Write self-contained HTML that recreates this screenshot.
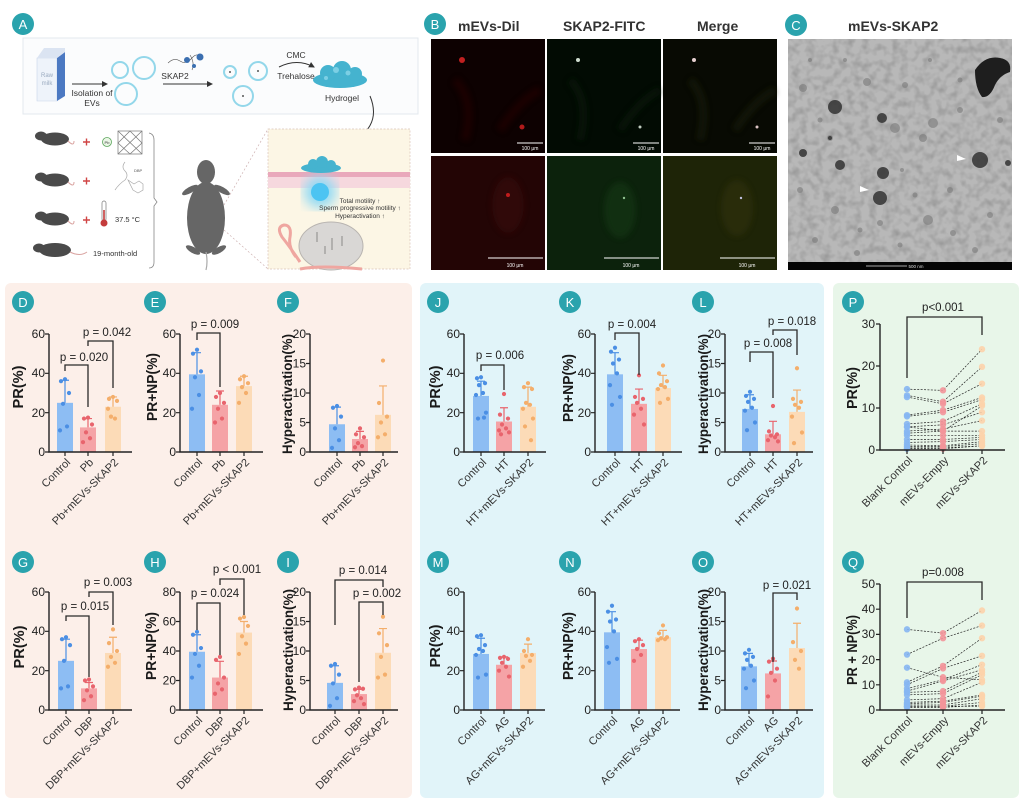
<!DOCTYPE html>
<html><head><meta charset="utf-8">
<style>
html,body{margin:0;padding:0;background:#fff;width:1024px;height:805px;overflow:hidden}
svg{display:block}
text{font-family:"Liberation Sans",Arial,sans-serif}
.tk{font-size:12px;fill:#222;text-anchor:end}
.yl{font-size:15px;font-weight:bold;fill:#1a1a1a;text-anchor:middle}
.yh{font-size:14px;font-weight:bold;fill:#1a1a1a;text-anchor:middle}
.xl{font-size:11px;fill:#333;text-anchor:end}
.pv{font-size:11.5px;fill:#222;text-anchor:middle}
.lb{font-size:13px;fill:#fff;text-anchor:middle}
.hd{font-size:14px;font-weight:bold;fill:#333;text-anchor:start}
.sm{font-size:8.5px;fill:#333;text-anchor:middle}
.br{fill:none;stroke:#2a2a2a;stroke-width:1.3}
</style></head>
<body>
<svg width="1024" height="805" viewBox="0 0 1024 805" xmlns="http://www.w3.org/2000/svg">
<defs>
<marker id="ah" markerWidth="6" markerHeight="6" refX="5" refY="3" orient="auto"><path d="M0,0L6,3L0,6z" fill="#333"/></marker>
<filter id="bl"><feGaussianBlur stdDeviation="3"/></filter>
<filter id="bl2"><feGaussianBlur stdDeviation="6"/></filter>
<filter id="bl1"><feGaussianBlur stdDeviation="1.2"/></filter>
<filter id="noise" x="0" y="0" width="100%" height="100%">
<feTurbulence type="fractalNoise" baseFrequency="0.13" numOctaves="2" seed="5"/>
<feColorMatrix type="matrix" values="0 0 0 0 0.3  0 0 0 0 0.3  0 0 0 0 0.3  1.8 0 0 0 -0.72"/>
</filter>
</defs>

<!-- panel backgrounds -->
<rect x="5" y="283" width="407" height="515" rx="6" fill="#fcefe9"/>
<rect x="420" y="283" width="404" height="515" rx="6" fill="#e1f4f9"/>
<rect x="833" y="283" width="186" height="515" rx="6" fill="#e8f6e9"/>

<!-- ===== A ===== -->
<rect x="23" y="38" width="395" height="76" fill="#fbfcfd" stroke="#e3e8ee" stroke-width="1"/>
<polygon points="37,58 57,58 57,101 37,101" fill="#eef3fa" stroke="#c9d6ea" stroke-width="0.6"/>
<polygon points="57,58 65,52 65,96 57,101" fill="#4c79c2"/>
<polygon points="37,58 44,48 65,48 65,52 57,58" fill="#dbe4f2"/>
<text x="47" y="77" style="font-size:6px;fill:#9aaabf;text-anchor:middle">Raw</text>
<text x="47" y="85" style="font-size:6px;fill:#9aaabf;text-anchor:middle">milk</text>
<line x1="72" y1="84" x2="107" y2="84" stroke="#333" stroke-width="1" marker-end="url(#ah)"/>
<text class="sm" x="92" y="96">Isolation of</text>
<text class="sm" x="92" y="106">EVs</text>
<g fill="none" stroke="#93d7ea" stroke-width="2">
<circle cx="120" cy="70" r="8"/><circle cx="144" cy="68" r="11"/><circle cx="126" cy="94" r="11"/>
<circle cx="230" cy="72" r="6"/><circle cx="258" cy="71" r="9"/><circle cx="243" cy="96" r="10"/>
</g>
<g stroke="#555" stroke-width="0.6" fill="none"><path d="M168,63 q6,-6 12,-2 t12,-3 t10,2"/><path d="M190,55 q5,8 2,15"/></g>
<circle cx="187" cy="60" r="3" fill="#3b6fb0"/><circle cx="200" cy="57" r="3.5" fill="#3b6fb0"/><circle cx="194" cy="66" r="2" fill="#3b6fb0"/>
<text class="sm" x="175" y="79">SKAP2</text>
<line x1="163" y1="84" x2="212" y2="84" stroke="#333" stroke-width="1" marker-end="url(#ah)"/>
<g fill="#555"><circle cx="230" cy="72" r="1"/><circle cx="258" cy="71" r="1"/><circle cx="243" cy="96" r="1"/></g>
<text class="sm" x="296" y="58">CMC</text>
<path d="M279,67 Q297,58 314,67" fill="none" stroke="#333" stroke-width="1" marker-end="url(#ah)"/>
<text class="sm" x="296" y="79">Trehalose</text>
<g fill="#45b3cf"><ellipse cx="340" cy="80" rx="27" ry="8"/><circle cx="328" cy="73" r="8"/><circle cx="342" cy="70" r="9"/><circle cx="355" cy="74" r="7"/></g>
<g fill="#8ad7ea" opacity="0.8"><circle cx="336" cy="70" r="3"/><circle cx="348" cy="73" r="2.5"/><circle cx="326" cy="78" r="2"/></g>
<text class="sm" x="342" y="101">Hydrogel</text>
<path d="M370,96 Q384,130 342,146" fill="none" stroke="#333" stroke-width="1" marker-end="url(#ah)"/>

<g fill="#4a4a4a">
<ellipse cx="55" cy="139" rx="14" ry="6.5"/><ellipse cx="41" cy="136" rx="6" ry="4.5"/>
<ellipse cx="55" cy="180" rx="14" ry="6.5"/><ellipse cx="41" cy="177" rx="6" ry="4.5"/>
<ellipse cx="55" cy="219" rx="14" ry="6.5"/><ellipse cx="41" cy="216" rx="6" ry="4.5"/>
<ellipse cx="55" cy="250" rx="16" ry="7"/><ellipse cx="39" cy="248" rx="6" ry="4.5"/>
</g>
<g fill="none" stroke="#d9a3a0" stroke-width="1"><path d="M68,141 q6,6 6,0"/><path d="M68,182 q6,6 6,0"/><path d="M68,221 q6,6 6,0"/><path d="M70,252 q10,5 17,0"/></g>
<g stroke="#d04545" stroke-width="1.4"><path d="M83,142h7M86.5,138.5v7"/><path d="M83,181h7M86.5,177.5v7"/><path d="M83,220h7M86.5,216.5v7"/></g>
<circle cx="107" cy="142" r="4.5" fill="#eaf6e6" stroke="#5aa55a" stroke-width="0.8"/>
<text x="107" y="144" style="font-size:4px;text-anchor:middle;fill:#333">Pb</text>
<g fill="none" stroke="#777" stroke-width="0.7"><rect x="118" y="131" width="24" height="23"/><path d="M118,131L142,154M142,131L118,154M130,131L118,143L130,154L142,143z"/></g>
<g fill="none" stroke="#aaa" stroke-width="0.7"><path d="M125,162 q-4,5 0,9 t0,9 q-6,4 -10,10"/><path d="M128,180 l6,4 l5,-3 l4,3 v6 l-5,3 l-5,-3z"/></g>
<text x="134" y="172" style="font-size:4px;fill:#555">DBP</text>
<rect x="102" y="201" width="4" height="20" rx="2" fill="#fff" stroke="#777" stroke-width="0.7"/>
<circle cx="104" cy="223" r="3.5" fill="#c43c3c"/><rect x="103.2" y="210" width="1.6" height="12" fill="#c43c3c"/>
<text x="115" y="222" style="font-size:7.5px;fill:#333">37.5 °C</text>
<text x="93" y="256" style="font-size:7.5px;fill:#333">19-month-old</text>
<path d="M149,133 Q154,134 154,140 V198 L157,202 L154,206 V262 Q154,268 149,268" fill="none" stroke="#888" stroke-width="0.8"/>
<g fill="#666">
<ellipse cx="206" cy="218" rx="19" ry="36"/><ellipse cx="206" cy="172" rx="9" ry="12"/>
<ellipse cx="190" cy="190" rx="9" ry="3" transform="rotate(-30 190 190)"/><ellipse cx="222" cy="190" rx="9" ry="3" transform="rotate(30 222 190)"/>
<ellipse cx="193" cy="250" rx="8" ry="3" transform="rotate(30 193 250)"/><ellipse cx="219" cy="250" rx="8" ry="3" transform="rotate(-30 219 250)"/>
</g>
<path d="M206,252 Q208,262 206,270" stroke="#aaa" stroke-width="1.2" fill="none"/>
<g stroke="#c9a9a9" stroke-width="0.6" stroke-dasharray="2 2"><line x1="224" y1="205" x2="268" y2="129"/><line x1="224" y1="230" x2="268" y2="269"/></g>
<rect x="268" y="129" width="142" height="140" fill="#fcf6e5" stroke="#d9c4b8" stroke-width="0.7" stroke-dasharray="2 1.5"/>
<rect x="268" y="172" width="142" height="5" fill="#e9a8bb"/>
<rect x="268" y="177" width="142" height="11" fill="#f6d8de"/>
<circle cx="320" cy="192" r="16" fill="#8fd9f4" filter="url(#bl2)"/>
<circle cx="320" cy="192" r="9" fill="#4cc4f2"/>
<g fill="#45b3cf"><ellipse cx="321" cy="168" rx="20" ry="5"/><circle cx="313" cy="164" r="5"/><circle cx="322" cy="162" r="6"/><circle cx="331" cy="165" r="5"/></g>
<text x="360" y="203" style="font-size:6.5px;fill:#333;text-anchor:middle">Total motility ↑</text>
<text x="360" y="210" style="font-size:6.5px;fill:#333;text-anchor:middle">Sperm progressive motility ↑</text>
<text x="360" y="218" style="font-size:6.5px;fill:#333;text-anchor:middle">Hyperactivation ↑</text>
<ellipse cx="331" cy="246" rx="32" ry="24" fill="#d9d7d5" stroke="#b8b4b0" stroke-width="1"/>
<path d="M300,262 q-10,-15 -18,-25 q-6,-10 2,-12 q8,0 6,12 q-2,10 6,20" fill="none" stroke="#efa6a0" stroke-width="3"/>
<path d="M300,269 q20,-4 62,0" fill="none" stroke="#efa6a0" stroke-width="3"/>
<g stroke="#555" stroke-width="0.6"><path d="M317,232v10M332,238v12M342,236v10M325,246v8"/></g>

<g fill="#2aa3ad">
<circle cx="23" cy="24" r="11"/><circle cx="435" cy="24" r="11"/><circle cx="796" cy="25" r="11"/>
<circle cx="23" cy="302" r="11"/><circle cx="155" cy="302" r="11"/><circle cx="288" cy="302" r="11"/>
<circle cx="23" cy="562" r="11"/><circle cx="155" cy="562" r="11"/><circle cx="288" cy="562" r="11"/>
<circle cx="438" cy="302" r="11"/><circle cx="570" cy="302" r="11"/><circle cx="703" cy="302" r="11"/>
<circle cx="438" cy="562" r="11"/><circle cx="570" cy="562" r="11"/><circle cx="703" cy="562" r="11"/>
<circle cx="853" cy="302" r="11"/><circle cx="853" cy="562" r="11"/>
</g>
<g class="lb">
<text x="23" y="29">A</text><text x="435" y="29">B</text><text x="796" y="30">C</text>
<text x="23" y="307">D</text><text x="155" y="307">E</text><text x="288" y="307">F</text>
<text x="23" y="567">G</text><text x="155" y="567">H</text><text x="288" y="567">I</text>
<text x="438" y="307">J</text><text x="570" y="307">K</text><text x="703" y="307">L</text>
<text x="438" y="567">M</text><text x="570" y="567">N</text><text x="703" y="567">O</text>
<text x="853" y="307">P</text><text x="853" y="567">Q</text>
</g>

<!-- ===== B ===== -->
<text class="hd" x="458" y="31">mEVs-Dil</text>
<text class="hd" x="563" y="31">SKAP2-FITC</text>
<text class="hd" x="697" y="31">Merge</text>
<rect x="431" y="39" width="114" height="114" fill="#0d0101"/>
<rect x="547" y="39" width="114" height="114" fill="#020b03"/>
<rect x="663" y="39" width="114" height="114" fill="#080a03"/>
<rect x="431" y="156" width="114" height="114" fill="#230505"/>
<rect x="547" y="156" width="114" height="114" fill="#0c220c"/>
<rect x="663" y="156" width="114" height="114" fill="#1e2407"/>
<g filter="url(#bl)" opacity="0.5">
<path d="M455,80 q20,20 10,60 M500,130 q20,-30 40,-40" stroke="#2a0505" stroke-width="8" fill="none"/>
<path d="M570,80 q20,20 10,60 M620,130 q20,-30 40,-40" stroke="#0a1f0a" stroke-width="8" fill="none"/>
<path d="M690,80 q20,20 10,60 M735,130 q20,-30 40,-40" stroke="#1f2208" stroke-width="8" fill="none"/>
<ellipse cx="508" cy="205" rx="16" ry="28" fill="#3c0707"/>
<ellipse cx="620" cy="210" rx="16" ry="28" fill="#143e14"/>
<ellipse cx="737" cy="208" rx="16" ry="28" fill="#34340f"/>
</g>
<g>
<circle cx="462" cy="60" r="3" fill="#c02020"/><circle cx="522" cy="127" r="2.5" fill="#b01a1a"/>
<circle cx="578" cy="60" r="2" fill="#cfdccf"/><circle cx="640" cy="127" r="1.5" fill="#c0ccc0"/>
<circle cx="694" cy="60" r="2" fill="#e6d0d0"/><circle cx="757" cy="127" r="1.5" fill="#dcc4c4"/>
<circle cx="508" cy="195" r="2" fill="#c01c1c"/><circle cx="624" cy="198" r="1.2" fill="#8fc08f"/><circle cx="741" cy="198" r="1.2" fill="#c0c0e0"/>
</g>
<g stroke="#fff" stroke-width="1">
<line x1="517" y1="143" x2="543" y2="143"/><line x1="633" y1="143" x2="659" y2="143"/><line x1="749" y1="143" x2="775" y2="143"/>
<line x1="488" y1="258" x2="543" y2="258"/><line x1="604" y1="258" x2="659" y2="258"/><line x1="720" y1="258" x2="775" y2="258"/>
</g>
<g style="font-size:5px;fill:#fff;text-anchor:middle">
<text x="530" y="150">100 μm</text><text x="646" y="150">100 μm</text><text x="762" y="150">100 μm</text>
<text x="515" y="267">100 μm</text><text x="631" y="267">100 μm</text><text x="747" y="267">100 μm</text>
</g>

<!-- ===== C ===== -->
<text class="hd" x="848" y="31">mEVs-SKAP2</text>
<rect x="788" y="39" width="224" height="231" fill="#b8b8b8"/>
<rect x="788" y="39" width="224" height="231" filter="url(#noise)"/>
<g fill="#7a7a7a" opacity="0.6">
<circle cx="803" cy="88" r="4"/><circle cx="867" cy="82" r="4"/><circle cx="905" cy="85" r="3"/><circle cx="830" cy="138" r="3"/>
<circle cx="923" cy="138" r="4"/><circle cx="933" cy="123" r="5"/><circle cx="895" cy="128" r="5"/><circle cx="835" cy="210" r="4"/>
<circle cx="928" cy="220" r="5"/><circle cx="953" cy="233" r="3"/><circle cx="857" cy="253" r="3"/><circle cx="880" cy="223" r="3"/>
<circle cx="902" cy="170" r="2"/><circle cx="960" cy="110" r="3"/><circle cx="815" cy="240" r="3"/><circle cx="990" cy="215" r="3"/>
<circle cx="845" cy="60" r="2"/><circle cx="930" cy="60" r="2"/><circle cx="800" cy="190" r="3"/><circle cx="975" cy="250" r="3"/>
<circle cx="820" cy="120" r="2.5"/><circle cx="950" cy="190" r="3"/><circle cx="1000" cy="120" r="3"/><circle cx="900" cy="245" r="2.5"/>
<circle cx="860" cy="230" r="2.5"/><circle cx="810" cy="60" r="2"/><circle cx="960" cy="80" r="2.5"/><circle cx="915" cy="195" r="2.5"/>
</g>
<g fill="#333" opacity="0.85">
<circle cx="835" cy="107" r="7"/><circle cx="882" cy="118" r="5"/><circle cx="803" cy="153" r="4"/><circle cx="840" cy="165" r="5"/>
<circle cx="883" cy="173" r="6"/><circle cx="880" cy="198" r="7"/><circle cx="980" cy="160" r="8"/><circle cx="1008" cy="163" r="3"/>
<circle cx="830" cy="138" r="2"/>
</g>
<path d="M975,70 Q985,55 1000,58 Q1012,60 1010,72 Q1000,75 995,85 Q990,98 982,97 Q975,88 975,70z" fill="#1e1e1e"/>
<polygon points="860,186 869,190 860,192" fill="#fff"/><polygon points="957,155 966,159 957,161" fill="#fff"/>
<rect x="788" y="262" width="224" height="8" fill="#050505"/>
<line x1="866" y1="266" x2="907" y2="266" stroke="#ddd" stroke-width="0.8"/>
<text x="916" y="268" style="font-size:4.5px;fill:#ddd;text-anchor:middle">500 nm</text>

<g id="plots"></g>

<g class="br">
<path d="M65,371V365H88V407"/><path d="M88,346V341H113V388"/>
<path d="M197,340V333H220V387"/>
<path d="M66,621V616H89V677"/><path d="M89,597V592H113V625"/>
<path d="M197,630V603H220V655"/><path d="M220,585V579H244V615"/>
<path d="M335,625V580H383V587"/><path d="M359,682V602H383V615"/>
<path d="M481,371V365H504V390"/>
<path d="M615,340V333H639V375"/>
<path d="M750,362V352H773V398"/><path d="M773,335V330H797V355"/>
<path d="M773,662V593H797V600"/>
<path d="M907,378V317H982V335"/>
<path d="M907,618V582H982V600"/>
</g>
<g class="pv">
<text x="84" y="361">p = 0.020</text><text x="107" y="336">p = 0.042</text>
<text x="215" y="328">p = 0.009</text>
<text x="85" y="610">p = 0.015</text><text x="108" y="586">p = 0.003</text>
<text x="215" y="597">p = 0.024</text><text x="237" y="573">p &lt; 0.001</text>
<text x="363" y="574">p = 0.014</text><text x="377" y="597">p = 0.002</text>
<text x="500" y="359">p = 0.006</text>
<text x="632" y="328">p = 0.004</text>
<text x="768" y="347">p = 0.008</text><text x="792" y="325">p = 0.018</text>
<text x="787" y="589">p = 0.021</text>
<text x="943" y="311">p&lt;0.001</text>
<text x="943" y="576">p=0.008</text>
</g>

<g class="tk">
<text x="45" y="338">60</text><text x="45" y="377">40</text><text x="45" y="417">20</text><text x="45" y="456">0</text>
<text x="176" y="338">60</text><text x="176" y="377">40</text><text x="176" y="417">20</text><text x="176" y="456">0</text>
<text x="306" y="338">20</text><text x="306" y="367.5">15</text><text x="306" y="397">10</text><text x="306" y="426.5">5</text><text x="306" y="456">0</text>
<text x="460" y="338">60</text><text x="460" y="377">40</text><text x="460" y="417">20</text><text x="460" y="456">0</text>
<text x="591" y="338">60</text><text x="591" y="377">40</text><text x="591" y="417">20</text><text x="591" y="456">0</text>
<text x="721" y="338">20</text><text x="721" y="367.5">15</text><text x="721" y="397">10</text><text x="721" y="426.5">5</text><text x="721" y="456">0</text>
<text x="45" y="596">60</text><text x="45" y="635">40</text><text x="45" y="675">20</text><text x="45" y="714">0</text>
<text x="176" y="596">80</text><text x="176" y="625.5">60</text><text x="176" y="655">40</text><text x="176" y="684.5">20</text><text x="176" y="714">0</text>
<text x="306" y="596">20</text><text x="306" y="625.5">15</text><text x="306" y="655">10</text><text x="306" y="684.5">5</text><text x="306" y="714">0</text>
<text x="460" y="596">60</text><text x="460" y="635">40</text><text x="460" y="675">20</text><text x="460" y="714">0</text>
<text x="591" y="596">60</text><text x="591" y="635">40</text><text x="591" y="675">20</text><text x="591" y="714">0</text>
<text x="721" y="596">20</text><text x="721" y="625.5">15</text><text x="721" y="655">10</text><text x="721" y="684.5">5</text><text x="721" y="714">0</text>
<text x="875" y="328">30</text><text x="875" y="370">20</text><text x="875" y="412">10</text><text x="875" y="454">0</text>
<text x="875" y="588">50</text><text x="875" y="613">40</text><text x="875" y="638">30</text><text x="875" y="664">20</text><text x="875" y="689">10</text><text x="875" y="714">0</text>
</g>

<g class="yl">
<text transform="translate(23,387) rotate(-90)" textLength="43" lengthAdjust="spacingAndGlyphs">PR(%)</text>
<text transform="translate(157,387) rotate(-90)" textLength="68" lengthAdjust="spacingAndGlyphs">PR+NP(%)</text>
<text transform="translate(24,647) rotate(-90)" textLength="43" lengthAdjust="spacingAndGlyphs">PR(%)</text>
<text transform="translate(156,646) rotate(-90)" textLength="68" lengthAdjust="spacingAndGlyphs">PR+NP(%)</text>
<text transform="translate(440,387) rotate(-90)" textLength="43" lengthAdjust="spacingAndGlyphs">PR(%)</text>
<text transform="translate(573,388) rotate(-90)" textLength="68" lengthAdjust="spacingAndGlyphs">PR+NP(%)</text>
<text transform="translate(440,646) rotate(-90)" textLength="43" lengthAdjust="spacingAndGlyphs">PR(%)</text>
<text transform="translate(573,646) rotate(-90)" textLength="68" lengthAdjust="spacingAndGlyphs">PR+NP(%)</text>
<text transform="translate(857,388) rotate(-90)" textLength="42" lengthAdjust="spacingAndGlyphs">PR(%)</text>
<text transform="translate(857,650) rotate(-90)" textLength="70" lengthAdjust="spacingAndGlyphs">PR + NP(%)</text>
</g>
<g class="yh">
<text transform="translate(292,394) rotate(-90)" textLength="120" lengthAdjust="spacingAndGlyphs">Hyperactivation(%)</text>
<text transform="translate(293,650) rotate(-90)" textLength="122" lengthAdjust="spacingAndGlyphs">Hyperactivation(%)</text>
<text transform="translate(708,394) rotate(-90)" textLength="120" lengthAdjust="spacingAndGlyphs">Hyperactivation(%)</text>
<text transform="translate(708,650) rotate(-90)" textLength="122" lengthAdjust="spacingAndGlyphs">Hyperactivation(%)</text>
</g>

<g class="xl">
<text transform="translate(71,463) rotate(-45)">Control</text><text transform="translate(94,463) rotate(-45)">Pb</text><text transform="translate(119,463) rotate(-45)">Pb+mEVs-SKAP2</text>
<text transform="translate(203,463) rotate(-45)">Control</text><text transform="translate(226,463) rotate(-45)">Pb</text><text transform="translate(250,463) rotate(-45)">Pb+mEVs-SKAP2</text>
<text transform="translate(343,463) rotate(-45)">Control</text><text transform="translate(366,463) rotate(-45)">Pb</text><text transform="translate(389,463) rotate(-45)">Pb+mEVs-SKAP2</text>
<text transform="translate(72,721) rotate(-45)">Control</text><text transform="translate(95,721) rotate(-45)">DBP</text><text transform="translate(119,721) rotate(-45)">DBP+mEVs-SKAP2</text>
<text transform="translate(203,721) rotate(-45)">Control</text><text transform="translate(226,721) rotate(-45)">DBP</text><text transform="translate(250,721) rotate(-45)">DBP+mEVs-SKAP2</text>
<text transform="translate(341,721) rotate(-45)">Control</text><text transform="translate(365,721) rotate(-45)">DBP</text><text transform="translate(389,721) rotate(-45)">DBP+mEVs-SKAP2</text>
<text transform="translate(487,463) rotate(-45)">Control</text><text transform="translate(510,463) rotate(-45)">HT</text><text transform="translate(534,463) rotate(-45)">HT+mEVs-SKAP2</text>
<text transform="translate(621,463) rotate(-45)">Control</text><text transform="translate(645,463) rotate(-45)">HT</text><text transform="translate(669,463) rotate(-45)">HT+mEVs-SKAP2</text>
<text transform="translate(756,463) rotate(-45)">Control</text><text transform="translate(779,463) rotate(-45)">HT</text><text transform="translate(803,463) rotate(-45)">HT+mEVs-SKAP2</text>
<text transform="translate(487,721) rotate(-45)">Control</text><text transform="translate(510,721) rotate(-45)">AG</text><text transform="translate(534,721) rotate(-45)">AG+mEVs-SKAP2</text>
<text transform="translate(618,721) rotate(-45)">Control</text><text transform="translate(645,721) rotate(-45)">AG</text><text transform="translate(669,721) rotate(-45)">AG+mEVs-SKAP2</text>
<text transform="translate(755,721) rotate(-45)">Control</text><text transform="translate(779,721) rotate(-45)">AG</text><text transform="translate(803,721) rotate(-45)">AG+mEVs-SKAP2</text>
<text transform="translate(913,461) rotate(-45)">Blank Control</text><text transform="translate(949,461) rotate(-45)">mEVs-Empty</text><text transform="translate(988,461) rotate(-45)">mEVs-SKAP2</text>
<text transform="translate(913,721) rotate(-45)">Blank Control</text><text transform="translate(949,721) rotate(-45)">mEVs-Empty</text><text transform="translate(988,721) rotate(-45)">mEVs-SKAP2</text>
</g>
</svg>
<script>
(function(){
var NS='http://www.w3.org/2000/svg';
var G=document.getElementById('plots');
function el(t,a){var e=document.createElementNS(NS,t);for(var k in a)e.setAttribute(k,a[k]);G.appendChild(e);return e;}
var BAR=['#8dbdf3','#f5a3a6','#fcdbb7'],DOT=['#4b8fe4','#e8646d','#f4ae6b'];
var J=[0,-4,4,-2,2,-5,5,-3,3];
var P=[
[49,452,60,[65,88,113],132,[[25,36.5,[37,36,30,24.5,13,11]],[12.5,17,[17.5,17,14,10,7,5]],[23,28,[28,27,26,18,17,22]]]],
[180,452,60,[197,220,244],263,[[39.5,50.5,[52,50,41,38,29,22]],[24,31,[30,28,25,22,17,15]],[33.5,38.5,[38.5,37,35,33,30,25]]]],
[310,452,20,[337,360,383],398,[[4.7,7.6,[7.8,7.5,6,4,2,0.7]],[2.2,3.5,[4,3,2.5,1.5,1,0.8]],[6.3,11.2,[15.5,8.3,6,5,3,2.5]]]],
[49,710,60,[66,89,113],132,[[25,36,[37,36,33,25,12,11]],[11,14,[15.5,15,12,10,7,5]],[29,37,[41,34,30,27,24,22]]]],
[180,710,80,[197,220,244],263,[[39.5,51,[53,51,42,38,30,22]],[22,33,[36,34,22,18,14,11]],[52.5,60,[63,62,57,50,45,38]]]],
[310,710,20,[335,359,383],398,[[4.6,7.5,[7.8,7.5,6,4.5,2,0.7]],[2.7,3.5,[3.8,3.5,3.6,2.5,2,1.5,1]],[9.7,13.8,[15.8,13,11,9,6,5.5]]]],
[464,452,60,[481,504,528],546,[[28.5,36,[38,37.5,35,34,30,29,20,17,17.5]],[15.5,22.5,[29.5,19,17,14,12,11,10,9]],[23,33,[35,33,32,25,24,22,17,13,6]]]],
[595,452,60,[615,639,663],682,[[39.5,50.5,[53,51,47,45,40,34,28,24]],[24.5,32,[39,28,27,25,22,19,14]],[32.5,39,[44,40,36,34,33,32,27,25]]]],
[725,452,20,[750,773,797],813,[[7.3,9.7,[10.2,9.5,9,8.5,7.5,7,5,3.7]],[3,5.2,[7.8,3.5,3,2.8,2.5,2,1.8]],[6.8,10.5,[14.2,9,8.5,8,7.5,6,3.3,1.5]]]],
[464,710,60,[481,504,528],545,[[28.5,36.5,[38,37.5,33,31,30,28,18,16.5]],[23,27,[27,26.5,26,24,22,20,17]],[29,33.5,[36,30,28,27.5,25,22]]]],
[595,710,60,[612,639,663],680,[[39.5,50,[53,50,46,45,40,32,26,24]],[31,35.5,[36,35,33,31,28,25]],[37,40.5,[43,39,37,36.5,36,35.5]]]],
[725,710,20,[749,773,797],813,[[7.4,9.6,[10.2,9.6,9,8.5,7.5,7,5,3.7]],[6.2,8.3,[8.7,8.2,7,6.3,5,2.3]],[10.5,14.7,[17.2,11.5,10,8.5,7]]]]
];
P.forEach(function(p){
 var ax=p[0],y0=p[1],rng=p[2],xs=p[3],end=p[4],data=p[5],k=118/rng,step=(rng==20?5:20);
 data.forEach(function(d,i){var x=xs[i];el('rect',{x:x-8,y:y0-d[0]*k,width:16,height:d[0]*k,fill:BAR[i]});});
 data.forEach(function(d,i){var x=xs[i];
  d[2].forEach(function(v,j){el('circle',{cx:x+J[j%9],cy:y0-v*k,r:2.1,fill:DOT[i]});});
  el('path',{d:'M'+x+','+(y0-d[0]*k)+'V'+(y0-d[1]*k)+'M'+(x-4)+','+(y0-d[1]*k)+'H'+(x+4),stroke:DOT[i],'stroke-width':1.2,fill:'none'});
 });
 el('path',{d:'M'+ax+','+(y0-118)+'V'+y0+'H'+end,stroke:'#222','stroke-width':1.4,fill:'none'});
 var t='';for(var v=0;v<=rng;v+=step)t+='M'+(ax-4)+','+(y0-v*k)+'H'+ax;
 xs.forEach(function(x){t+='M'+x+','+y0+'v4';});
 el('path',{d:t,stroke:'#222','stroke-width':1.2,fill:'none'});
});
var PC=['#86b6f2','#f3959a','#fdd3ab'];
var Q=[
[880,450,30,10,[907,943,982],1005,[[14.5,14.2,24],[13,11.5,19.8],[12.6,11,15.8],[8.3,9.5,12.5],[8,9,12],[6.2,6.8,11],[5.5,4.5,10.5],[5.5,6,9],[4.5,5,7],[4,4.5,4.5],[3.5,3.5,3.5],[2.5,2.5,3],[1.8,2,2.5],[1.2,1,2],[0.8,0.8,1.5],[0.5,0.5,1],[0.3,0.3,1]]],
[880,710,50,10,[907,943,982],1005,[[32,30.5,39.5],[22,28.5,33.5],[16.8,13,12],[11,17.5,28.5],[10,16.5,21.5],[8.5,12,18],[7.5,11.5,16],[7,7.5,15],[6,6.5,14],[4,4.5,11],[3,3.5,6],[2.5,3,5.5],[2,2,4.5],[1.5,1.5,3],[1,1,2],[1.5,1.5,1.5]]]
];
Q.forEach(function(p){
 var ax=p[0],y0=p[1],rng=p[2],step=p[3],xs=p[4],end=p[5],rows=p[6],k=126/rng;
 rows.forEach(function(r){el('polyline',{points:r.map(function(v,i){return xs[i]+','+(y0-v*k);}).join(' '),fill:'none',stroke:'#222','stroke-width':0.7,'stroke-dasharray':'2 1.4'});});
 rows.forEach(function(r){r.forEach(function(v,i){el('circle',{cx:xs[i],cy:y0-v*k,r:3.2,fill:PC[i],opacity:0.9});});});
 el('path',{d:'M'+ax+','+(y0-126)+'V'+y0+'H'+end,stroke:'#222','stroke-width':1.4,fill:'none'});
 var t='';for(var v=0;v<=rng;v+=step)t+='M'+(ax-4)+','+(y0-v*k)+'H'+ax;
 xs.forEach(function(x){t+='M'+x+','+y0+'v4';});
 el('path',{d:t,stroke:'#222','stroke-width':1.2,fill:'none'});
});
})();
</script>
</body></html>
